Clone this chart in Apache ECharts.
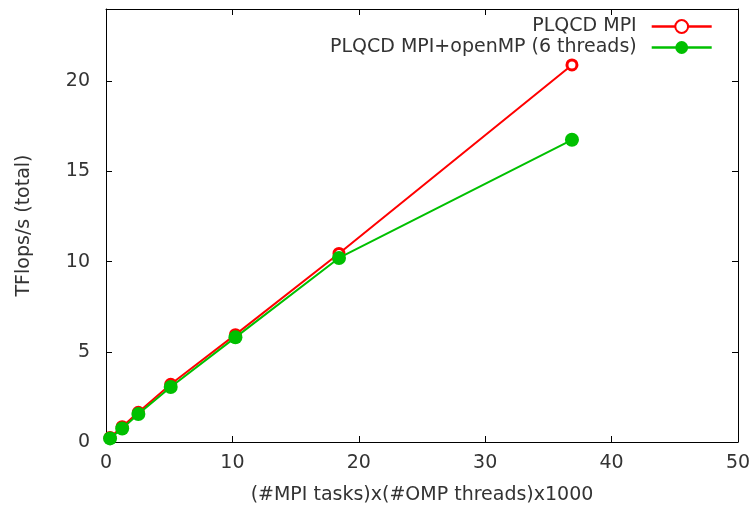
<!DOCTYPE html>
<html>
<head>
<meta charset="utf-8">
<script src="https://cdn.jsdelivr.net/npm/echarts@6/dist/echarts.min.js"></script>
<style>html,body{margin:0;padding:0;background:#fff}#c{width:754px;height:510px}</style>
</head>
<body>
<div id="c"></div>
<script>
// Data
const xValues = [0.32, 1.28, 2.56, 5.12, 10.24, 18.432, 36.864];
const mpiValues = [0.25, 0.85, 1.65, 3.2, 5.95, 10.45, 20.9];
const ompValues = [0.2, 0.75, 1.55, 3.05, 5.8, 10.2, 16.75];
const seriesNames = ['PLQCD MPI', 'PLQCD MPI+openMP (6 threads)'];
const xTitle = '(#MPI tasks)x(#OMP threads)x1000';
const yTitle = 'TFlops/s (total)';
const xTicks = [0, 10, 20, 30, 40, 50];
const yTicks = [0, 5, 10, 15, 20];

const FONT = 'DejaVu Sans';
const TXT = '#333';
const chart = echarts.init(document.getElementById('c'), null, {renderer: 'canvas'});

const pairs = vals => xValues.map((x, i) => [x, vals[i]]);

const axisLine = {show: true, onZero: false, lineStyle: {color: '#000', width: 1}};
const tick = vals => ({show: true, inside: true, length: 6, lineStyle: {color: '#000'}, customValues: vals});

chart.setOption({
  animation: false,
  backgroundColor: '#fff',
  textStyle: {fontFamily: FONT},
  grid: {left: 106, right: 16, top: 9, bottom: 68, show: false},
  legend: {
    right: 36, top: 11, orient: 'vertical', align: 'right',
    itemWidth: 60, itemHeight: 16, itemGap: 0,
    textStyle: {fontFamily: FONT, fontSize: 19, lineHeight: 21, color: TXT, padding: [0, 10, 0, 0]},
    lineStyle: {width: 2.6},
    data: seriesNames
  },
  xAxis: [
    {
      type: 'value', min: 0, max: 50, interval: 10, position: 'bottom',
      name: xTitle, nameLocation: 'middle', nameGap: 44,
      nameTextStyle: {fontFamily: FONT, fontSize: 19, color: TXT},
      axisLine: axisLine, axisTick: tick(xTicks), splitLine: {show: false},
      axisLabel: {fontFamily: FONT, fontSize: 19, color: TXT, margin: 12, customValues: xTicks}
    },
    {
      type: 'value', min: 0, max: 50, interval: 10, position: 'top',
      axisLine: axisLine, axisTick: tick(xTicks), splitLine: {show: false},
      axisLabel: {show: false}
    }
  ],
  yAxis: [
    {
      type: 'value', min: 0, max: 24, interval: 5, position: 'left',
      name: yTitle, nameLocation: 'middle', nameGap: 72, nameRotate: 90,
      nameTextStyle: {fontFamily: FONT, fontSize: 19, color: TXT},
      axisLine: axisLine, axisTick: tick(yTicks), splitLine: {show: false},
      axisLabel: {fontFamily: FONT, fontSize: 19, color: TXT, margin: 16, customValues: yTicks}
    },
    {
      type: 'value', min: 0, max: 24, interval: 5, position: 'right',
      axisLine: axisLine, axisTick: tick(yTicks), splitLine: {show: false},
      axisLabel: {show: false}
    }
  ],
  series: [
    {
      name: seriesNames[0], type: 'line', data: pairs(mpiValues),
      symbol: 'circle', symbolSize: 10,
      lineStyle: {color: '#ff0000', width: 2},
      itemStyle: {color: '#ffffff', borderColor: '#ff0000', borderWidth: 3},
      z: 2
    },
    {
      name: seriesNames[1], type: 'line', data: pairs(ompValues),
      symbol: 'circle', symbolSize: 14,
      lineStyle: {color: '#00c000', width: 2},
      itemStyle: {color: '#00c000'},
      z: 3
    }
  ]
});
</script>
</body>
</html>
